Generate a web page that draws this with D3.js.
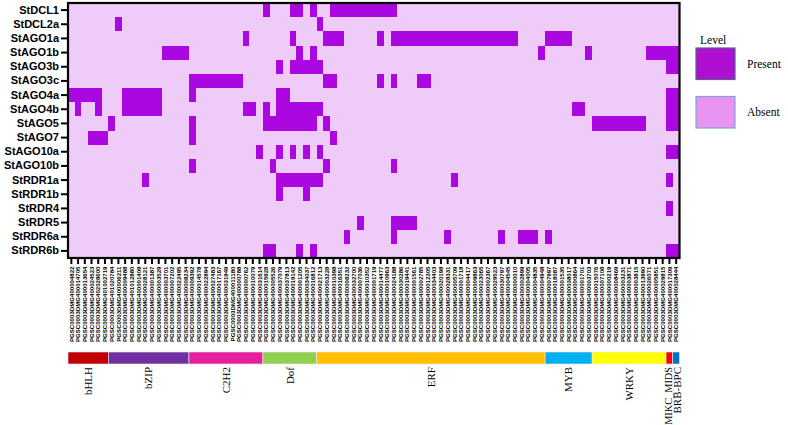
<!DOCTYPE html>
<html><head><meta charset="utf-8">
<script src="https://cdn.jsdelivr.net/npm/d3@7"></script>
<style>body{margin:0;background:#fff}svg{display:block}</style>
</head><body>
<svg id="c" width="788" height="425"></svg>
<script>
const rows = ["StDCL1","StDCL2a","StAGO1a","StAGO1b","StAGO3b","StAGO3c","StAGO4a","StAGO4b","StAGO5","StAGO7","StAGO10a","StAGO10b","StRDR1a","StRDR1b","StRDR4","StRDR5","StRDR6a","StRDR6b"];
const genes = ["PGSC0003DMG400004822","PGSC0003DMG400014705","PGSC0003DMG400013654","PGSC0003DMG400024523","PGSC0003DMG402028600","PGSC0003DMG401002719","PGSC0003DMG401020784","PGSC0003DMG400006211","PGSC0003DMG400009488","PGSC0003DMG401012880","PGSC0003DMG400001409","PGSC0003DMG400028121","PGSC0003DMG400001387","PGSC0003DMG400003529","PGSC0003DMG400003701","PGSC0003DMG400007202","PGSC0003DMG400022495","PGSC0003DMG400008234","PGSC0003DMG400009392","PGSC0003DMG400014578","PGSC0003DMG400022894","PGSC0003DMG400027483","PGSC0003DMG400017167","PGSC0003DMG400031949","PGSC0003DMG400011180","PGSC0003DMG400000788","PGSC0003DMG400000762","PGSC0003DMG400010079","PGSC0003DMG400031614","PGSC0003DMG400015928","PGSC0003DMG400005526","PGSC0003DMG400037079","PGSC0003DMG400037813","PGSC0003DMG400019142","PGSC0003DMG400001205","PGSC0003DMG400034037","PGSC0003DMG400016812","PGSC0003DMG400021713","PGSC0003DMG400003228","PGSC0003DMG400010398","PGSC0003DMG400016351","PGSC0003DMG400008232","PGSC0003DMG400032700","PGSC0003DMG400007036","PGSC0003DMG400010352","PGSC0003DMG400001719","PGSC0003DMG400014477","PGSC0003DMG400010963","PGSC0003DMG400024188","PGSC0003DMG400030286","PGSC0003DMG400019441","PGSC0003DMG400001561","PGSC0003DMG400002785","PGSC0003DMG400012305","PGSC0003DMG400034403","PGSC0003DMG400020198","PGSC0003DMG400028331","PGSC0003DMG400005709","PGSC0003DMG400001718","PGSC0003DMG400004417","PGSC0003DMG400009863","PGSC0003DMG400023065","PGSC0003DMG400002367","PGSC0003DMG400029523","PGSC0003DMG400030797","PGSC0003DMG400004545","PGSC0003DMG400000010","PGSC0003DMG400002899","PGSC0003DMG400004005","PGSC0003DMG400004835","PGSC0003DMG400004948","PGSC0003DMG400007997","PGSC0003DMG400018087","PGSC0003DMG400001535","PGSC0003DMG400038017","PGSC0003DMG400000864","PGSC0003DMG400001701","PGSC0003DMG400003703","PGSC0003DMG400015076","PGSC0003DMG400007108","PGSC0003DMG400000219","PGSC0003DMG400008469","PGSC0003DMG400003231","PGSC0003DMG400003871","PGSC0003DMG400003815","PGSC0003DMG400013990","PGSC0003DMG400026071","PGSC0003DMG400005851","PGSC0003DMG400029815","PGSC0003DMG400017309","PGSC0003DMG400028444"];
// present cells: column indices per row (listed as single indices or [start,end] ranges)
const present = [
  [29,33,34,36,[39,48]],
  [7,37],
  [26,33,[38,40],46,[48,66],[71,74]],
  [[14,17],34,36,70,77,[86,90]],
  [31,[33,37],[89,90]],
  [[18,25],[38,39],46,48,[52,53]],
  [[0,4],[8,13],18,[31,32],[89,90]],
  [1,4,[8,13],[26,27],29,[31,37],[75,76],[89,90]],
  [6,18,[29,36],38,[78,85],[89,90]],
  [[3,5],18,39],
  [28,31,33,35,37,[89,90]],
  [18,30,38,48],
  [11,[31,37],57,89],
  [31,35],
  [89],
  [43,[48,51]],
  [41,48,56,64,[67,69],71],
  [[29,30],34,36,[89,90]]
];
const families = ["bHLH","bZIP","C2H2","Dof","ERF","MYB","WRKY","MIKC_MIDS","BRB-BPC"];
const familySizes = [6,12,11,8,34,7,11,1,1];
const familyColors = ["#c00000","#7030a0","#e6209c","#92d050","#ffc000","#00b0f0","#ffff00","#ff0000","#0070c0"];
const levels = ["Present","Absent"];
const levelColors = ["#ab07e0","#eecbf8"];
const legendColors = ["#b00fd2","#e893f2"];

const svg = d3.select("#c");
const L=68, R=679.5, T=3, B=258;
const x = d3.scaleBand().domain(genes).range([L,R]).padding(0);
const y = d3.scaleBand().domain(rows).range([T,B]).padding(0);

// build matrix
const cells=[];
rows.forEach((r,ri)=>{
  const set=new Set();
  present[ri].forEach(p=>{ if(Array.isArray(p)){for(let k=p[0];k<=p[1];k++)set.add(k);} else set.add(p); });
  genes.forEach((g,gi)=>cells.push({r,g,v:set.has(gi)?0:1}));
});
const g=svg.append("g");
g.selectAll("rect").data(cells).join("rect")
 .attr("x",d=>x(d.g)).attr("y",d=>y(d.r))
 .attr("width",x.bandwidth()+0.3).attr("height",y.bandwidth()+0.3)
 .attr("fill",d=>levelColors[d.v]).attr("shape-rendering","crispEdges");

svg.append("rect").attr("x",L).attr("y",T).attr("width",R-L).attr("height",B-T)
 .attr("fill","none").attr("stroke","#000").attr("stroke-width",2.2);

// left axis
const ax=svg.append("g").attr("transform",`translate(${L-1},0)`).call(d3.axisLeft(y).tickSize(6).tickPadding(2));
ax.select(".domain").remove();
ax.selectAll(".tick line").attr("stroke","#000").attr("stroke-width",2);
ax.selectAll("text").attr("font-family","Liberation Sans, Arial, sans-serif").attr("font-weight","bold").attr("font-size",11).attr("fill","#000");

// bottom axis
const bx=svg.append("g").attr("transform",`translate(0,${B+1})`).call(d3.axisBottom(x).tickSize(5));
bx.select(".domain").remove();
bx.selectAll(".tick line").attr("stroke","#000").attr("stroke-width",2);
bx.selectAll("text").attr("transform","rotate(-90)").attr("x",-7.5).attr("y",0).attr("dy","0.35em")
 .attr("text-anchor","end").attr("font-family","Liberation Sans, Arial, sans-serif").attr("font-weight","bold")
 .attr("font-size",6.1).attr("fill","#000");

// family bar
let start=0;
const fam=families.map((f,i)=>{const o={f,start,n:familySizes[i],c:familyColors[i]};start+=familySizes[i];return o;});
const fb=svg.append("g");
fb.selectAll("rect").data(fam).join("rect")
 .attr("x",d=>x(genes[d.start])).attr("y",352).attr("width",d=>d.n*x.bandwidth()).attr("height",12)
 .attr("fill",d=>d.c).attr("stroke","#f4e8f4").attr("stroke-width",0.6);
fb.selectAll("text").data(fam).join("text")
 .attr("transform",d=>`translate(${x(genes[d.start])+d.n*x.bandwidth()/2+ (d.f==="MIKC_MIDS"?-1:(d.f==="BRB-BPC"?1:0))},367) rotate(-90)`)
 .attr("text-anchor","end").attr("dy","0.35em")
 .attr("font-family","Liberation Serif, Times New Roman, serif").attr("font-size",d=>d.f==="MIKC_MIDS"?10.3:11).attr("fill","#000")
 .text(d=>d.f);

// legend
const lg=svg.append("g");
lg.append("text").attr("x",700).attr("y",44).text("Level").attr("font-family","Liberation Serif, Times New Roman, serif").attr("font-size",11.5);
const ly=d3.scaleBand().domain(levels).range([48,128]).paddingInner(0.35);
lg.selectAll("rect").data(levels).join("rect")
 .attr("x",696).attr("y",d=>ly(d)).attr("width",39).attr("height",ly.bandwidth())
 .attr("fill",(d,i)=>legendColors[i]).attr("stroke",(d,i)=>i?"#7fa6cf":"#4f628f").attr("stroke-width",1.2);
lg.selectAll("text.l").data(levels).join("text").attr("class","l")
 .attr("x",747).attr("y",d=>ly(d)+ly.bandwidth()/2).attr("dy","0.35em").text(d=>d)
 .attr("font-family","Liberation Serif, Times New Roman, serif").attr("font-size",11.5);
</script>
</body></html>
